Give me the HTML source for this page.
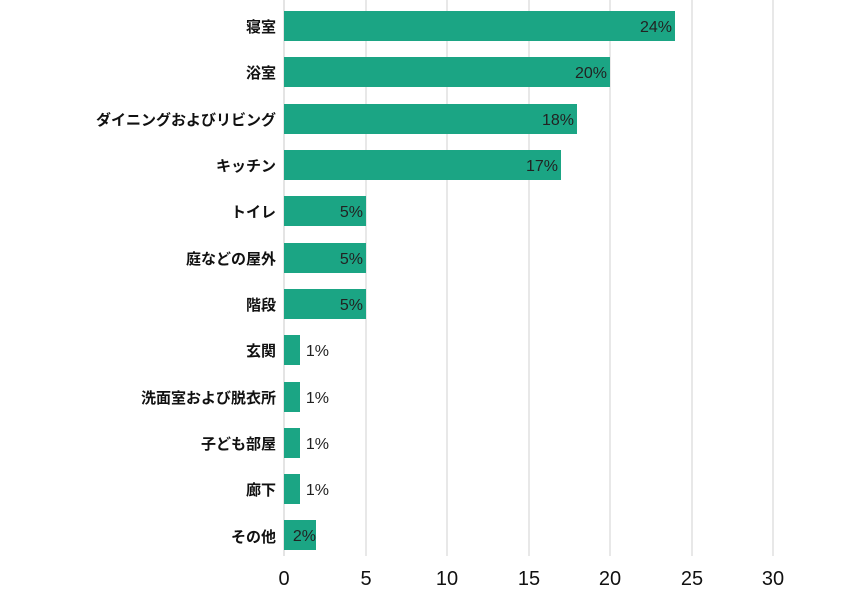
<!DOCTYPE html><html><head><meta charset="utf-8"><style>body{margin:0;background:#fff}</style></head><body>
<svg width="850" height="589" xmlns="http://www.w3.org/2000/svg" font-family="'Liberation Sans','Noto Sans CJK JP',sans-serif">
<g stroke="#d0d0d0" stroke-width="1">
<line x1="366" y1="0" x2="366" y2="556"/><line x1="447" y1="0" x2="447" y2="556"/><line x1="529" y1="0" x2="529" y2="556"/><line x1="610" y1="0" x2="610" y2="556"/><line x1="692" y1="0" x2="692" y2="556"/><line x1="773" y1="0" x2="773" y2="556"/>
</g>
<line x1="284" y1="0" x2="284" y2="556" stroke="#c8c8c8"/>
<g fill="#1ba584">
<rect x="284" y="11" width="391" height="30"/>
<rect x="284" y="57" width="326" height="30"/>
<rect x="284" y="104" width="293" height="30"/>
<rect x="284" y="150" width="277" height="30"/>
<rect x="284" y="196" width="82" height="30"/>
<rect x="284" y="243" width="82" height="30"/>
<rect x="284" y="289" width="82" height="30"/>
<rect x="284" y="335" width="16" height="30"/>
<rect x="284" y="382" width="16" height="30"/>
<rect x="284" y="428" width="16" height="30"/>
<rect x="284" y="474" width="16" height="30"/>
<rect x="284" y="520" width="32" height="30"/>
</g>
<g font-size="16" fill="#222" text-anchor="end">
<text x="672" y="32">24%</text><text x="607" y="78">20%</text><text x="574" y="125">18%</text><text x="558" y="171">17%</text>
<text x="363" y="217">5%</text><text x="363" y="264">5%</text><text x="363" y="310">5%</text>
<text x="329" y="356">1%</text><text x="329" y="403">1%</text><text x="329" y="449">1%</text><text x="329" y="495">1%</text>
<text x="316" y="541">2%</text>
</g>
<g font-size="15" font-weight="bold" fill="#111" text-anchor="end">
<text x="276" y="32">寝室</text><text x="276" y="78">浴室</text><text x="276" y="125">ダイニングおよびリビング</text><text x="276" y="171">キッチン</text>
<text x="276" y="217">トイレ</text><text x="276" y="264">庭などの屋外</text><text x="276" y="310">階段</text><text x="276" y="356">玄関</text>
<text x="276" y="403">洗面室および脱衣所</text><text x="276" y="449">子ども部屋</text><text x="276" y="495">廊下</text><text x="276" y="542">その他</text>
</g>
<g font-size="20" fill="#111" text-anchor="middle">
<text x="284" y="585">0</text><text x="366" y="585">5</text><text x="447" y="585">10</text><text x="529" y="585">15</text><text x="610" y="585">20</text><text x="692" y="585">25</text><text x="773" y="585">30</text>
</g>
</svg></body></html>
